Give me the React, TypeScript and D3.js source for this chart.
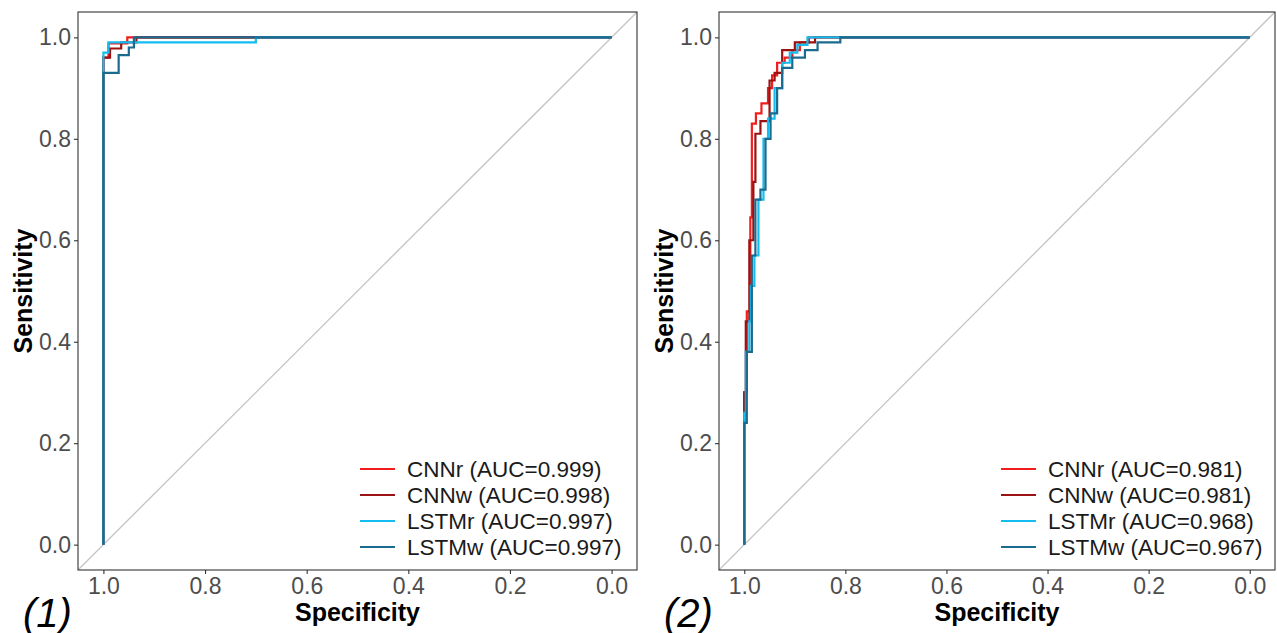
import React, { useEffect, useRef } from 'react';
import * as d3 from 'd3';

// series names and colours
const seriesNames = ['CNNr', 'CNNw', 'LSTMr', 'LSTMw'];
const seriesColors = ['#f21d1d', '#9b1212', '#14bdf0', '#1a6b8e'];

// panel (1): AUC values and ROC vertices as [specificity, sensitivity]
const auc1 = ['0.999', '0.998', '0.997', '0.997'];
const cnnr1: number[][] = [[1, 0], [1, 0.96], [0.99, 0.96], [0.99, 0.988], [0.953, 0.988], [0.953, 1], [0, 1]];
const cnnw1: number[][] = [[1, 0], [1, 0.96], [0.987, 0.96], [0.987, 0.978], [0.965, 0.978], [0.965, 0.99], [0.935, 0.99], [0.935, 1], [0, 1]];
const lstmr1: number[][] = [[1, 0], [1, 0.97], [0.99, 0.97], [0.99, 0.99], [0.7, 0.99], [0.7, 1], [0, 1]];
const lstmw1: number[][] = [[1, 0], [1, 0.93], [0.97, 0.93], [0.97, 0.965], [0.95, 0.965], [0.95, 0.98], [0.94, 0.98], [0.94, 1], [0, 1]];

// panel (2)
const auc2 = ['0.981', '0.981', '0.968', '0.967'];
const cnnr2: number[][] = [
    [1, 0], [1, 0.3], [0.995, 0.3], [0.995, 0.46], [0.988, 0.46], [0.988, 0.645],
    [0.985, 0.645], [0.985, 0.83], [0.977, 0.83], [0.977, 0.85], [0.966, 0.85], [0.966, 0.87],
    [0.953, 0.87], [0.953, 0.9], [0.945, 0.9], [0.945, 0.925], [0.935, 0.925], [0.935, 0.95],
    [0.92, 0.95], [0.92, 0.96], [0.905, 0.96], [0.905, 0.975], [0.89, 0.975], [0.89, 0.99],
    [0.872, 0.99], [0.872, 1], [0, 1],
];
const cnnw2: number[][] = [
    [1, 0], [1, 0.3], [0.997, 0.3], [0.997, 0.44], [0.99, 0.44], [0.99, 0.6],
    [0.982, 0.6], [0.982, 0.715], [0.978, 0.715], [0.978, 0.81], [0.968, 0.81], [0.968, 0.835],
    [0.95, 0.835], [0.95, 0.915], [0.94, 0.915], [0.94, 0.93], [0.925, 0.93], [0.925, 0.975],
    [0.9, 0.975], [0.9, 0.99], [0.86, 0.99], [0.86, 1], [0, 1],
];
const lstmr2: number[][] = [
    [1, 0], [1, 0.26], [0.997, 0.26], [0.997, 0.38], [0.99, 0.38], [0.99, 0.44],
    [0.987, 0.44], [0.987, 0.51], [0.98, 0.51], [0.98, 0.57], [0.972, 0.57], [0.972, 0.68],
    [0.962, 0.68], [0.962, 0.8], [0.953, 0.8], [0.953, 0.84], [0.94, 0.84], [0.94, 0.9],
    [0.925, 0.9], [0.925, 0.95], [0.91, 0.95], [0.91, 0.97], [0.895, 0.97], [0.895, 0.985],
    [0.875, 0.985], [0.875, 1], [0, 1],
];
const lstmw2: number[][] = [
    [1, 0], [1, 0.24], [0.995, 0.24], [0.995, 0.38], [0.985, 0.38], [0.985, 0.57],
    [0.978, 0.57], [0.978, 0.68], [0.968, 0.68], [0.968, 0.7], [0.958, 0.7], [0.958, 0.8],
    [0.948, 0.8], [0.948, 0.85], [0.935, 0.85], [0.935, 0.9], [0.925, 0.9], [0.925, 0.94],
    [0.905, 0.94], [0.905, 0.96], [0.88, 0.96], [0.88, 0.975], [0.855, 0.975], [0.855, 0.99],
    [0.81, 0.99], [0.81, 1], [0, 1],
];

const xTicks = [1.0, 0.8, 0.6, 0.4, 0.2, 0.0];
const yTicks = [0.0, 0.2, 0.4, 0.6, 0.8, 1.0];

const FONT = '"Liberation Sans", Arial, sans-serif';

const App = () => {
    const ref = useRef<SVGSVGElement | null>(null);

    useEffect(() => {
        document.body.style.margin = '0';
        const svg = d3.select(ref.current);
        svg.selectAll('*').remove();

        const drawPanel = (left: number, right: number, tag: string, curves: number[][][], aucs: string[], id: string, lx: number) => {
            const top = 12;
            const bottom = 570;
            // ggplot style 5% expansion on both axes
            const x = d3.scaleLinear().domain([1.05, -0.05]).range([left, right]);
            const y = d3.scaleLinear().domain([-0.05, 1.05]).range([bottom, top]);

            const g = svg.append('g');

            g.append('clipPath').attr('id', id)
                .append('rect')
                .attr('x', left).attr('y', top)
                .attr('width', right - left).attr('height', bottom - top);

            const plot = g.append('g').attr('clip-path', `url(#${id})`);

            // diagonal reference line
            plot.append('line')
                .attr('x1', x(1.05)).attr('y1', y(-0.05))
                .attr('x2', x(-0.05)).attr('y2', y(1.05))
                .attr('stroke', '#c4c4c4')
                .attr('stroke-width', 1.3);

            const line = d3.line<number[]>()
                .x((d) => x(d[0]))
                .y((d) => y(d[1]));

            curves.forEach((c, i) => {
                plot.append('path')
                    .attr('d', line(c))
                    .attr('fill', 'none')
                    .attr('stroke', seriesColors[i])
                    .attr('stroke-width', 2.2);
            });

            // panel border
            g.append('rect')
                .attr('x', left).attr('y', top)
                .attr('width', right - left).attr('height', bottom - top)
                .attr('fill', 'none')
                .attr('stroke', '#333333')
                .attr('stroke-width', 1.1);

            // axes
            const xAxis = d3.axisBottom(x).tickValues(xTicks).tickSize(4).tickPadding(4)
                .tickFormat(d3.format('.1f'));
            const yAxis = d3.axisLeft(y).tickValues(yTicks).tickSize(4).tickPadding(3)
                .tickFormat(d3.format('.1f'));

            const gx = g.append('g').attr('transform', `translate(0,${bottom})`).call(xAxis);
            const gy = g.append('g').attr('transform', `translate(${left},0)`).call(yAxis);
            [gx, gy].forEach((a) => {
                a.select('.domain').remove();
                a.selectAll('line').attr('stroke', '#333333').attr('stroke-width', 1.1);
                a.selectAll('text')
                    .attr('fill', '#4d4d4d')
                    .style('font-family', FONT)
                    .style('font-size', '23px');
            });

            // axis titles
            g.append('text')
                .attr('x', (left + right) / 2)
                .attr('y', 621)
                .attr('text-anchor', 'middle')
                .style('font-family', FONT)
                .style('font-size', '25px')
                .style('font-weight', 'bold')
                .text('Specificity');

            g.append('text')
                .attr('transform', `translate(${left - 46},${(top + bottom) / 2}) rotate(-90)`)
                .attr('text-anchor', 'middle')
                .style('font-family', FONT)
                .style('font-size', '25px')
                .style('font-weight', 'bold')
                .text('Sensitivity');

            // panel tag
            g.append('text')
                .attr('x', left - 55)
                .attr('y', 627)
                .style('font-family', FONT)
                .style('font-size', '40px')
                .style('font-style', 'italic')
                .text(tag);

            // legend
            seriesNames.forEach((n, i) => {
                const ly = 469 + i * 26;
                g.append('line')
                    .attr('x1', lx).attr('x2', lx + 35)
                    .attr('y1', ly).attr('y2', ly)
                    .attr('stroke', seriesColors[i])
                    .attr('stroke-width', 2.2);
                g.append('text')
                    .attr('x', lx + 47)
                    .attr('y', ly)
                    .attr('dy', '0.36em')
                    .style('font-family', FONT)
                    .style('font-size', '22.5px')
                    .attr('fill', '#1a1a1a')
                    .text(`${n} (AUC=${aucs[i]})`);
            });
        };

        drawPanel(78, 637, '(1)', [cnnr1, cnnw1, lstmr1, lstmw1], auc1, 'clip1', 360);
        drawPanel(719, 1275, '(2)', [cnnr2, cnnw2, lstmr2, lstmw2], auc2, 'clip2', 1001);
    }, []);

    return (
        <svg ref={ref} width={1277} height={633} style={{ display: 'block', background: '#fff' }} />
    );
};

export default App;
